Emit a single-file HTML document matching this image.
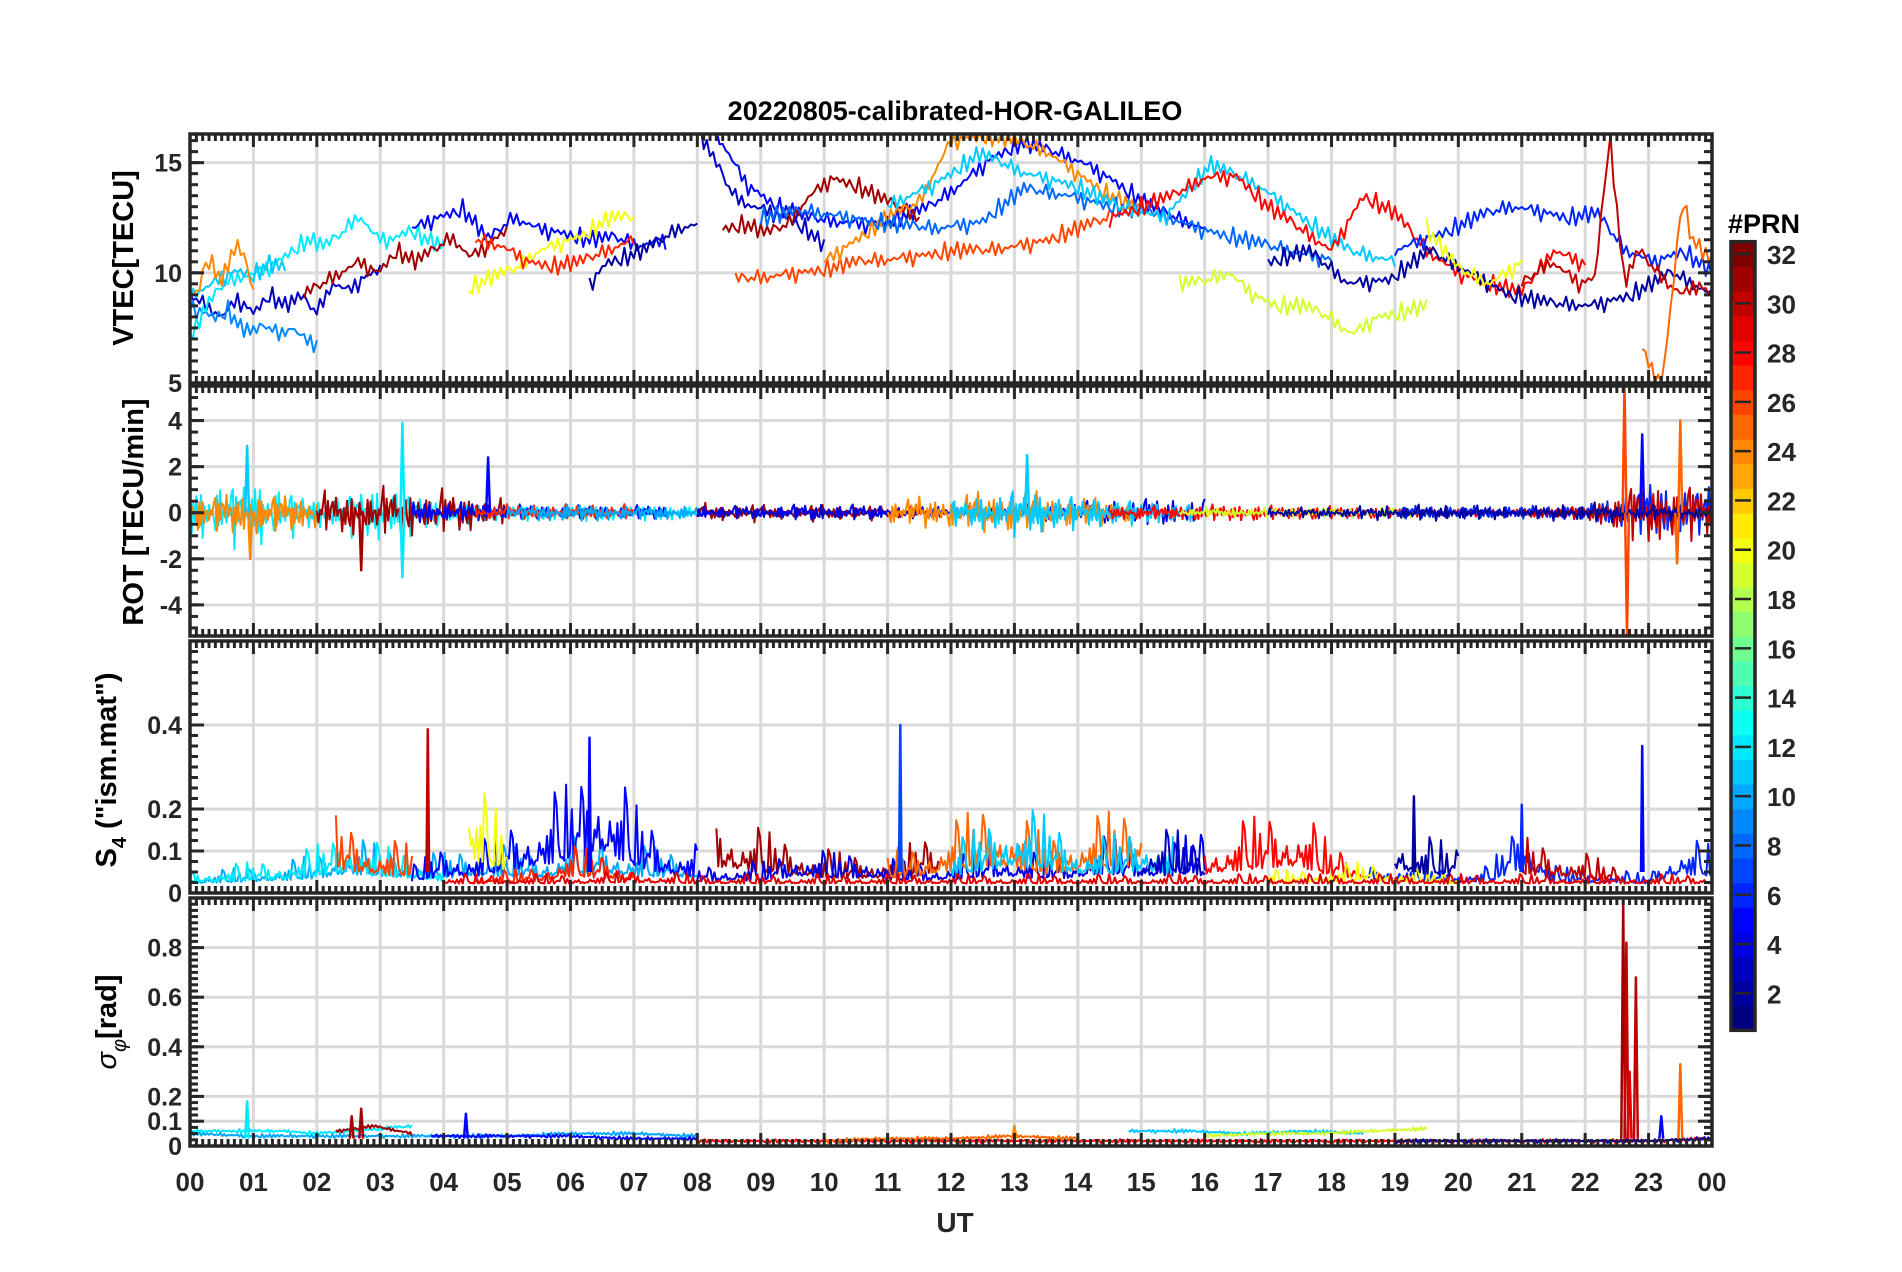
<!DOCTYPE html>
<html><head><meta charset="utf-8"><title>20220805-calibrated-HOR-GALILEO</title>
<style>
html,body{margin:0;padding:0;background:#fff;}
svg{display:block;font-family:"Liberation Sans",sans-serif;}
</style></head>
<body>
<svg id="fig" width="1902" height="1272" viewBox="0 0 1902 1272" xmlns="http://www.w3.org/2000/svg">
<rect x="0" y="0" width="1902" height="1272" fill="#fff"/>
<text x="955" y="120" text-anchor="middle" font-size="27" font-weight="bold" fill="#000">20220805-calibrated-HOR-GALILEO</text>
<g id="layer"></g>
</svg>
<script>
// ---------- data ----------
const hourLabels = ["00","01","02","03","04","05","06","07","08","09","10","11","12","13","14","15","16","17","18","19","20","21","22","23","00"];
const vtecTicks = [5,10,15];
const rotTicks = [-4,-2,0,2,4];
const s4Ticks = [0,0.1,0.2,0.4];
const sigTicks = [0,0.1,0.2,0.4,0.6,0.8];
const cbTicks = [2,4,6,8,10,12,14,16,18,20,22,24,26,28,30,32];
// fixed texture shape applied to amplitudes
const wave = [0.2,-0.7,0.5,-0.3,1,-0.5,0.1,-0.9,0.6,-0.2,0.4,-1,0.8,-0.4,0.3,-0.6,0.9,-0.1,0.5,-0.8,0.2,-0.5,0.7,-0.15,0.05,-0.35,0.25,-0.1,0.65,-0.45,0.15,-0.25,0.35,-0.05,0.55,-0.3,0.1];

// VTEC tracks: prn, start hour, end hour, values (evenly spaced)
const vtecPrn   = [3,9,12,11,24,31,5,20,27,2,3,5,31,26,24,8,11,28,19,6,2,30,25,20];
const vtecStart = [0,0,0,0,0,1.8,3.5,4.4,4.5,6.3,8,8.3,8.4,8.6,10,9,11,14.5,15.6,19,17,21,22.9,19.5];
const vtecEnd   = [3,2,4,1.5,1,5,7.5,7,7,8,10,16,11.5,14.5,15,18,19,22,19.5,24,24,24,24,21];
const vtecVals = [
 [9,8.5,8.0,8.8,8.2,9,8.5,8.9,8.2,9.5,9.2,9.8,10.2],
 [8.5,8.2,8,8.3,7.5,7.3,7.6,7.2,7.5,7.0,6.8],
 [7,8.5,9.5,9.8,10,10.4,11,11.5,11.2,11.8,12.6,11.6,11.5,12,11.5,11.2],
 [9,9.3,9.8,10.1,9.9,10.4,10.2],
 [9,9.1,10.6,10.3,9.6,10.6,11.2,10.5,9.2],
 [9,9.5,10,10.5,10,11,10.5,11,11.6,10.7,11.3,12],
 [12,12.5,12.9,11.5,12.5,12,11.8,11.5,11.6,11.2,11.5],
 [9.3,9.8,10.2,11,11.4,11.8,12.5,12.5],
 [11.5,11.2,10.5,10.3,10.5,11,11.5],
 [9.5,10.5,10.7,11,11.5,12,12.2],
 [16.5,15,13.5,13,12.8,12.5,12,11.2],
 [16.3,14,13,12.5,12.3,12.2,12.5,13,14,15.2,15.9,15.5,15,14.2,13.2,12.5,12],
 [12,12.2,11.8,12.2,13.5,14.3,14,13.5,13,12.5],
 [9.7,9.8,10,10.2,10.5,10.6,10.8,11,11,11.2,11.5,12,12.5],
 [10.5,11.5,12.5,13.2,16,16.2,16,15.5,14.5,13.5,12.8],
 [12.5,12.8,12.5,12.2,12,12.3,13.8,13.5,13,12.7,12,11.5,11,10.6],
 [13,14,15.4,14.5,14,13,12.5,14.9,14,12.5,11,10.5],
 [12.5,13,13.5,14.3,14.4,13,12,11,13.5,12.7,11,10,9.5,9.1,11,10.4],
 [9.5,9.6,10,9,8.5,8.5,8,7.2,8,8.2,8.5],
 [11,11.5,12,12.6,13,12.8,12.5,12.7,11,10.5,11,10],
 [10.5,11,9.5,9.7,11,10,9,8.6,8.5,9,10,9],
 [9.5,10,10.5,10,9.5,9.8,16.3,9.5,11,10.2,9.5,9,9.5,9],
 [6.5,5.6,5,9,13.5,11.5,11,10.5],
 [12,10.2,9.5,10.5]
];

// ROT tracks: prn, start, end, amplitudes (per segment)
const rotPrn   = [12,24,31,5,27,10,31,4,24,11,28,19,6,30,2];
const rotStart = [0,0,2,3.5,4.5,5,8,8,11,12,14.5,15.6,19,21,17];
const rotEnd   = [8,2,5,7.5,7,8,11.5,16,15,16,22,19.5,24,24,24];
const rotAmps = [
 [1,1.5,0.6,1.2,0.5,0.3,0.3,0.3,0.3],
 [0.8,1,0.7],
 [0.8,1,0.9,0.5],
 [0.5,0.4,0.3,0.3,0.3],
 [0.3,0.3,0.3],
 [0.3,0.4,0.3,0.3],
 [0.4,0.3,0.3,0.2],
 [0.3,0.3,0.4,0.3,0.3,0.4,0.5,0.6,0.6],
 [0.5,0.7,0.9,0.6,0.4],
 [0.5,1,0.7,0.5,0.3],
 [0.3,0.3,0.4,0.3,0.3,0.2,0.2,0.2,0.2],
 [0.2,0.2,0.2,0.2],
 [0.3,0.3,0.3,0.3,1.2,1.1],
 [0.2,0.3,1.5,1.1],
 [0.2,0.2,0.3,0.3,0.2,0.4,0.3,0.3]
];
const rotSpikeT   = [0.9,0.95,2.7,3.35,3.35,4.7,13.2,22.62,22.66,22.9,23.5,23.45];
const rotSpikeV   = [2.9,-2,-2.5,3.9,-2.8,2.4,2.5,5.5,-5.4,3.4,4,-2.2];
const rotSpikePrn = [11,24,31,12,12,5,11,26,26,5,25,25];

// S4 tracks
const s4Prn   = [10,12,26,5,20,27,31,4,25,11,3,28,6,30,20,29,2];
const s4Start = [0,0,2.3,3.5,4.4,4.5,8.3,8,11,12,15,16,18.5,21,17,4,19];
const s4End   = [8,4,3.5,8,5,7,11.8,16,15,15.5,16,18.5,24,22.5,20,24,20];
const s4Vals = [
 [0.03,0.04,0.05,0.06,0.08,0.12,0.1,0.08,0.08,0.1,0.1,0.08,0.12,0.12,0.1,0.09,0.08],
 [0.04,0.05,0.06,0.07,0.1,0.14,0.1,0.08,0.05],
 [0.17,0.12,0.1],
 [0.05,0.1,0.1,0.15,0.2,0.25,0.33,0.2,0.12,0.1],
 [0.27,0.15],
 [0.03,0.04,0.05,0.1,0.08,0.06],
 [0.19,0.15,0.12,0.1,0.08,0.08,0.1,0.14],
 [0.05,0.06,0.06,0.1,0.08,0.09,0.06,0.06,0.08,0.1,0.08,0.08,0.12,0.1,0.1,0.15],
 [0.08,0.1,0.15,0.2,0.18,0.12,0.15,0.18,0.2],
 [0.1,0.15,0.2,0.17,0.12,0.12,0.15,0.12],
 [0.12,0.14,0.1],
 [0.12,0.15,0.18,0.19,0.1,0.08],
 [0.05,0.06,0.05,0.04,0.05,0.18,0.05,0.04,0.04,0.03,0.12,0.1],
 [0.12,0.1,0.08,0.05],
 [0.04,0.04,0.05,0.06,0.05,0.04,0.03],
 [0.03,0.03,0.03,0.04,0.03,0.03,0.03,0.03,0.03,0.03,0.03,0.03,0.03,0.03,0.03,0.03,0.03,0.03,0.03,0.03,0.03],
 [0.16,0.12,0.1]
];
const s4SpikeT   = [3.75,6.3,11.2,22.9,21,19.3];
const s4SpikeV   = [0.39,0.37,0.4,0.35,0.21,0.23];
const s4SpikePrn = [30,5,7,5,6,2];

// sigma-phi tracks
const sigPrn   = [12,10,31,5,28,25,11,19,2];
const sigStart = [0,0,2.3,3.8,8,10,14.8,16,19];
const sigEnd   = [3.5,8,3.5,8,24,14,18.5,19.5,24];
const sigVals = [
 [0.06,0.06,0.06,0.06,0.05,0.06,0.07,0.08],
 [0.05,0.04,0.04,0.04,0.04,0.04,0.05,0.05,0.04],
 [0.06,0.08,0.05],
 [0.04,0.04,0.04,0.03,0.03],
 [0.02,0.02,0.02,0.02,0.02,0.02,0.02,0.02,0.02,0.02,0.02,0.02,0.02,0.02,0.02,0.02,0.03],
 [0.02,0.03,0.03,0.04,0.03],
 [0.06,0.06,0.05,0.06,0.05],
 [0.04,0.05,0.05,0.06,0.07],
 [0.02,0.02,0.02,0.02,0.02,0.03]
];
const sigSpikeT   = [0.9,2.7,2.55,4.35,22.6,22.65,22.8,23.5,23.2,13,22.7];
const sigSpikeV   = [0.18,0.15,0.12,0.13,0.98,0.82,0.68,0.33,0.12,0.08,0.3];
const sigSpikePrn = [12,31,31,5,31,30,30,25,5,24,29];

// ---------- geometry ----------
const X0 = 190, X1 = 1712;
const panels = [
 {name:"vtec", top:134, bot:383, min:5, max:16.3, ticks:vtecTicks},
 {name:"rot",  top:386, bot:636, min:-5.35, max:5.5, ticks:rotTicks},
 {name:"s4",   top:641, bot:893, min:0, max:0.6, ticks:s4Ticks},
 {name:"sigma",top:898, bot:1146, min:0, max:1.0, ticks:sigTicks}
];
const xs = h => X0 + (X1 - X0) * h / 24;
const ysFor = p => v => p.bot - (p.bot - p.top) * (v - p.min) / (p.max - p.min);

function jet(prn){
  const v = (prn - 1) / 31;
  const c = t => Math.round(255 * Math.max(0, Math.min(1, 1.5 - Math.abs(4*v - t))));
  return `rgb(${c(3)},${c(2)},${c(1)})`;
}
const NS = "http://www.w3.org/2000/svg";
const layer = document.getElementById("layer");
function mk(tag, attrs, parent){
  const e = document.createElementNS(NS, tag);
  for (const k in attrs) e.setAttribute(k, attrs[k]);
  (parent || layer).appendChild(e);
  return e;
}
function fmt(v){ return (Math.abs(v) < 1e-9) ? "0" : String(v); }

panels.forEach((p, pi) => {
  const g = mk("g", {});
  
  
  const ys = ysFor(p);
  const cp = mk("clipPath", {id:"clip"+pi}, g);
  mk("rect", {x:X0, y:p.top, width:X1-X0, height:p.bot-p.top}, cp);
  for (let h = 1; h < 24; h++) {
    const l = mk("line", {x1:xs(h), x2:xs(h), y1:p.top, y2:p.bot, stroke:"#d9d9d9", "stroke-width":3}, g);
    
    
  }
  p.ticks.forEach(t => {
    if (t === p.min) return;
    const l = mk("line", {x1:X0, x2:X1, y1:ys(t), y2:ys(t), stroke:"#d9d9d9", "stroke-width":3}, g);
    
    
  });
  p.g = g; p.ys = ys;
  p.dg = mk("g", {"clip-path":`url(#clip${pi})`}, g);
  
  
});

function polyline(p, pts, prn, w){
  const e = mk("polyline", {points: pts.map(q => q[0].toFixed(1)+","+q[1].toFixed(1)).join(" "), fill:"none", stroke:jet(prn), "stroke-width":w||2, "stroke-linejoin":"round"}, p.dg);
  
  
  return e;
}
function interp(vals, start, end, t){
  const n = vals.length;
  if (n === 1) return vals[0];
  const f = (t - start) / (end - start) * (n - 1);
  const i = Math.min(n - 2, Math.max(0, Math.floor(f)));
  const r = f - i;
  return vals[i] * (1 - r) + vals[i+1] * r;
}

// VTEC
(function(){
  const p = panels[0];
  vtecPrn.forEach((prn, k) => {
    const pts = [];
    const s = vtecStart[k], e = vtecEnd[k];
    const n = Math.max(2, Math.round((e - s) / 0.05));
    for (let i = 0; i <= n; i++) {
      const t = s + (e - s) * i / n;
      const v = interp(vtecVals[k], s, e, t) + 0.45 * wave[(i * 3 + k*5) % wave.length];
      pts.push([xs(t), p.ys(v)]);
    }
    polyline(p, pts, prn, 2);
  });
})();

// ROT
(function(){
  const p = panels[1];
  rotPrn.forEach((prn, k) => {
    const pts = [];
    const s = rotStart[k], e = rotEnd[k];
    const n = Math.round((e - s) / 0.025);
    for (let i = 0; i <= n; i++) {
      const t = s + (e - s) * i / n;
      const a = interp(rotAmps[k], s, e, t);
      const w = wave[(i * 7 + k * 3) % wave.length] * (0.7 + 0.6 * Math.abs(wave[(i * 2 + k) % wave.length]));
      pts.push([xs(t), p.ys(a * w)]);
    }
    polyline(p, pts, prn, 2);
  });
  rotSpikeT.forEach((t, i) => {
    polyline(p, [[xs(t-0.03), p.ys(0)], [xs(t), p.ys(rotSpikeV[i])], [xs(t+0.03), p.ys(0)]], rotSpikePrn[i], 2.5);
  });
})();

// S4
(function(){
  const p = panels[2];
  s4Prn.forEach((prn, k) => {
    const pts = [];
    const s = s4Start[k], e = s4End[k];
    const n = Math.round((e - s) / 0.03);
    for (let i = 0; i <= n; i++) {
      const t = s + (e - s) * i / n;
      const lv = interp(s4Vals[k], s, e, t);
      const w = Math.abs(wave[(i * 5 + k * 2) % wave.length]);
      pts.push([xs(t), p.ys(0.015 + lv * (0.25 + 0.75 * w * w))]);
    }
    polyline(p, pts, prn, 2);
  });
  s4SpikeT.forEach((t, i) => {
    polyline(p, [[xs(t-0.02), p.ys(0.05)], [xs(t), p.ys(s4SpikeV[i])], [xs(t+0.02), p.ys(0.05)]], s4SpikePrn[i], 2.5);
  });
})();

// sigma phi
(function(){
  const p = panels[3];
  sigPrn.forEach((prn, k) => {
    const pts = [];
    const s = sigStart[k], e = sigEnd[k];
    const n = Math.round((e - s) / 0.03);
    for (let i = 0; i <= n; i++) {
      const t = s + (e - s) * i / n;
      const lv = interp(sigVals[k], s, e, t);
      pts.push([xs(t), p.ys(lv + 0.008 * wave[(i * 3 + k) % wave.length])]);
    }
    polyline(p, pts, prn, 2);
  });
  sigSpikeT.forEach((t, i) => {
    polyline(p, [[xs(t-0.03), p.ys(0.03)], [xs(t), p.ys(sigSpikeV[i])], [xs(t+0.03), p.ys(0.03)]], sigSpikePrn[i], 2.5);
  });
})();

// frames, ticks, labels
panels.forEach((p, pi) => {
  const g = p.g, ys = p.ys;
  const ax = mk("g", {stroke:"#262626", "stroke-width":3}, g);
  
  
  for (let m = 0; m <= 240; m++) {
    const x = xs(m / 10);
    const L = (m % 10 === 0) ? 13 : 7;
    mk("line", {x1:x, x2:x, y1:p.top, y2:p.top + L}, ax);
    mk("line", {x1:x, x2:x, y1:p.bot, y2:p.bot - L}, ax);
  }
  const nt = (p.name === "rot") ? 0.5 : (p.name === "vtec" ? 0.5 : 0.025);
  for (let v = Math.ceil(p.min / nt) * nt; v <= p.max + 1e-9; v += nt) {
    const y = ys(v);
    mk("line", {x1:X0, x2:X0 + 8, y1:y, y2:y}, ax);
    mk("line", {x1:X1, x2:X1 - 8, y1:y, y2:y}, ax);
  }
  p.ticks.forEach(t => {
    const y = ys(t);
    mk("line", {x1:X0, x2:X0 + 14, y1:y, y2:y}, ax);
    mk("line", {x1:X1, x2:X1 - 14, y1:y, y2:y}, ax);
    const tx = mk("text", {x:X0 - 8, y:y + 9, "text-anchor":"end", "font-size":25, "font-weight":"bold", fill:"#262626", stroke:"none"}, g);
    tx.textContent = fmt(t);
    
    
  });
  mk("rect", {x:X0, y:p.top, width:X1-X0, height:p.bot-p.top, fill:"none", stroke:"#262626", "stroke-width":3.5}, g);
});

// x tick labels
hourLabels.forEach((lab, i) => {
  const t = mk("text", {x:xs(i), y:1191, "text-anchor":"middle", "font-size":26, "font-weight":"bold", fill:"#262626"});
  t.textContent = lab;
  
  
});

// colorbar
(function(){
  const cb = mk("g", {});
  
  
  const cx = 1731, cw = 24, ct = 254, cbot = 1018;
  const cy = v => cbot - (cbot - ct) * (v - 1) / 31;
  for (let k = 1; k <= 32; k++) {
    mk("rect", {x:cx, y:cy(k + 0.5), width:cw, height:(cbot-ct)/31 + 0.8, fill:jet(k), stroke:"none"}, cb);
  }
  cbTicks.forEach(v => {
    const y = cy(v);
    mk("line", {x1:cx + 4, x2:cx + cw - 4, y1:y, y2:y, stroke:"#262626", "stroke-width":2.5}, cb);
    const t = mk("text", {x:cx + 36, y:y + 10, "font-size":26, "font-weight":"bold", fill:"#262626"}, cb);
    t.textContent = v;
    
    
  });
  const top = cy(32.5), bottom = cy(0.5);
  mk("rect", {x:cx, y:top, width:cw, height:bottom-top, fill:"none", stroke:"#262626", "stroke-width":3.5}, cb);
  const tl = mk("text", {x:1728, y:233, "font-size":27, "font-weight":"bold", fill:"#000"}, cb);
  tl.textContent = "#PRN";
  
  
})();

// axis titles
(function(){
  const svg = document.getElementById("fig");
  function lbl(name, x, y, html){
    const t = document.createElementNS(NS, "text");
    t.setAttribute("transform", `translate(${x},${y}) rotate(-90)`);
    t.setAttribute("text-anchor", "middle");
    t.setAttribute("font-size", "29");
    t.setAttribute("font-weight", "bold");
    t.setAttribute("fill", "#000");
    t.innerHTML = html;
    
    
    svg.appendChild(t);
  }
  lbl('vtec-axis-title', 133, 258, 'VTEC[TECU]');
  lbl('rot-axis-title', 143, 512, 'ROT [TECU/min]');
  lbl('s4-axis-title', 116, 770, 'S<tspan font-size="20" dy="10">4</tspan><tspan dy="-10"> ("ism.mat")</tspan>');
  lbl('sigma-axis-title', 116, 1022, '<tspan font-style="italic" font-weight="normal">σ</tspan><tspan font-size="20" dy="10" font-style="italic" font-weight="normal">φ</tspan><tspan dy="-10">[rad]</tspan>');
  const ut = document.createElementNS(NS, "text");
  ut.setAttribute("x", "955"); ut.setAttribute("y", "1232");
  ut.setAttribute("text-anchor", "middle"); ut.setAttribute("font-size", "28");
  ut.setAttribute("font-weight", "bold"); ut.setAttribute("fill", "#262626");
  ut.textContent = "UT";
  
  
  svg.appendChild(ut);
})();
</script>
</body></html>
